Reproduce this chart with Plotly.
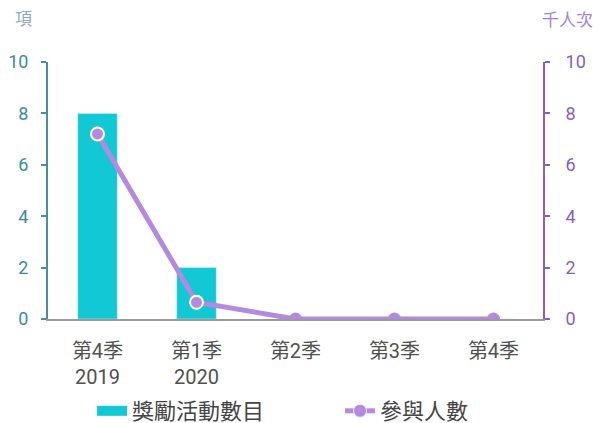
import plotly.graph_objects as go

categories = ["第4季<br>2019", "第1季<br>2020", "第2季", "第3季", "第4季"]
activities = [8, 2, 0, 0, 0]
participants = [7.2, 0.65, 0, 0, 0]

font_family = "Roboto, Arial, 'Noto Sans CJK TC', sans-serif"

fig = go.Figure()
fig.add_trace(go.Bar(x=categories, y=activities, name="獎勵活動數目",
                     marker_color="#12c8d5", width=0.4, yaxis="y",
                     showlegend=False))
# legend entry for the bars drawn as a thick line, like the original wide swatch
fig.add_trace(go.Scatter(x=[None], y=[None], name="獎勵活動數目", mode="lines",
                         line=dict(color="#12c8d5", width=13)))
fig.add_trace(go.Scatter(x=categories, y=participants, name="參與人數",
                         mode="lines+markers", yaxis="y2",
                         line=dict(color="#b48ae0", width=5),
                         marker=dict(size=13, color="#b48ae0",
                                     line=dict(color="white", width=[2, 2, 0, 0, 0]))))

# page body has an 8px margin, so the figure is 8px smaller than the window
fig.update_layout(
    width=599, height=415,
    margin=dict(l=40, r=64, t=54, b=104, autoexpand=False),
    plot_bgcolor="white", paper_bgcolor="white",
    font=dict(family=font_family, size=18, color="#555555"),
    legend=dict(orientation="h", x=0.59, xanchor="center", y=-0.358, yanchor="middle",
                font=dict(size=22, color="#444444"),
                entrywidth=203, entrywidthmode="pixels"),
    xaxis=dict(showline=True, linecolor="#9a9a9a", linewidth=2,
               tickfont=dict(size=20, color="#505050"), ticks="",
               ticklabelstandoff=13),
    yaxis=dict(range=[0, 10], dtick=2, showgrid=False, zeroline=False,
               showline=True, linecolor="#4a8ca2", linewidth=2,
               ticks="outside", ticklen=5, tickcolor="#4a8ca2", tickwidth=2,
               tickfont=dict(size=18, color="#3c8aa0"), ticklabelstandoff=9),
    yaxis2=dict(range=[0, 10], dtick=2, overlaying="y", side="right",
                showgrid=False, zeroline=False,
                showline=True, linecolor="#8a5cc0", linewidth=2,
                ticks="outside", ticklen=5, tickcolor="#8a5cc0", tickwidth=2,
                tickfont=dict(size=18, color="#8a5cc0"), ticklabelstandoff=12),
)
fig.add_annotation(text="項", x=-0.05, y=1.169, xref="paper", yref="paper",
                   xanchor="center", yanchor="middle",
                   showarrow=False, font=dict(size=17, color="#8fa6cc"))
fig.add_annotation(text="千人次", x=1.05, y=1.165, xref="paper", yref="paper",
                   xanchor="center", yanchor="middle",
                   showarrow=False, font=dict(size=17, color="#a57fd6"))

fig.write_html("out.html")
